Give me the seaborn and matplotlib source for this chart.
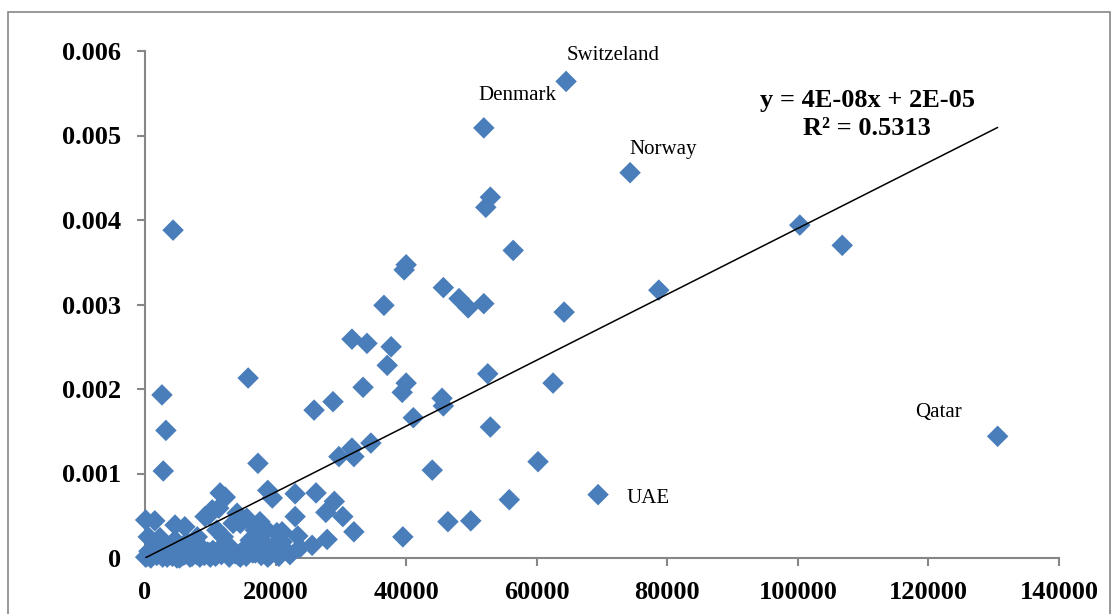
import matplotlib
matplotlib.use("Agg")
import matplotlib.pyplot as plt
import seaborn as sns
import pandas as pd
from matplotlib.patches import Rectangle

# ---- data ----
gdp = [64500, 51900, 74300, 52900, 52200, 4300, 56400, 100300, 106800, 40000,
       39700, 36600, 45700, 48100, 49500, 51900, 64200, 78700, 31700, 34000,
       37700, 37100, 15800, 2600, 3200, 2800, 40000, 39400, 33400, 28800,
       25900, 45500, 45700, 41100, 52500, 62500, 52900, 34600, 31700, 32000,
       29700, 44000, 60200, 55800, 46400, 49900, 69400, 130600, 17300, 26200,
       23000, 29000, 27700, 23000, 30300, 32000, 23400, 25600, 27900, 21000,
       21000, 39500, 18800, 19500, 11500, 10300, 9200, 12300, 14100, 14600,
       15600, 17600, 18700, 20200, 18100, 19500, 20700, 12000, 13000, 15000,
       16500, 18800, 12600, 100, 1500, 500, 2300, 6400, 8000, 11000,
       100, 1200, 3400, 4900, 6900, 8700, 10400, 13500, 6100, 10000,
       14600, 22200, 23700, 3800, 2300, 4600, 7700, 12300, 16100, 16900,
       11300, 9800, 6100, 4600,
       # overlapping diamonds hidden in the near-zero cluster
       300, 900, 1800, 2700, 3600, 4200, 5300, 5800, 6600, 7200,
       7900, 8400, 9100, 9600, 10800, 11700, 12900, 13800, 14300, 15500,
       16900, 17800, 19200, 20500, 600, 1300, 2000, 2900, 3300, 4700,
       5600, 6200, 7500, 8800, 9900, 11200, 12200, 13300, 15900, 17200]
share = [0.00564, 0.00509, 0.00456, 0.00427, 0.00415, 0.00388, 0.00364, 0.00394, 0.00370, 0.00347,
         0.00341, 0.00299, 0.00320, 0.00307, 0.00296, 0.00301, 0.00291, 0.00317, 0.00259, 0.00254,
         0.00250, 0.00228, 0.00213, 0.00193, 0.00151, 0.00103, 0.00207, 0.00196, 0.00202, 0.00185,
         0.00175, 0.00189, 0.00180, 0.00166, 0.00218, 0.00207, 0.00155, 0.00136, 0.00130, 0.00120,
         0.00120, 0.00104, 0.00114, 0.00069, 0.00043, 0.00044, 0.00075, 0.00144, 0.00112, 0.00077,
         0.00076, 0.00067, 0.00054, 0.00049, 0.00049, 0.00031, 0.00026, 0.00015, 0.00022, 0.00031,
         0.00019, 0.00025, 0.00080, 0.00071, 0.00077, 0.00057, 0.00049, 0.00072, 0.00053, 0.00041,
         0.00047, 0.00043, 0.00033, 0.00030, 0.00018, 0.00013, 0.00021, 0.00025, 0.00013, 0.00009,
         0.00006, 0.00001, 0.00006, 0.00045, 0.00044, 0.00025, 0.00024, 0.00019, 0.00025, 0.00033,
         0.00001, 0.00006, 0.00001, 0.00000, 0.00001, 0.00006, 0.00009, 0.00041, 0.00004, 0.00001,
         0.00001, 0.00004, 0.00012, 0.00012, 0.00015, 0.00021, 0.00012, 0.00015, 0.00021, 0.00033,
         0.00059, 0.00051, 0.00037, 0.00039,
         0.00002, 0.00000, 0.00003, 0.00001, 0.00004, 0.00002, 0.00000, 0.00003, 0.00006, 0.00002,
         0.00004, 0.00001, 0.00003, 0.00007, 0.00002, 0.00004, 0.00001, 0.00005, 0.00003, 0.00002,
         0.00006, 0.00003, 0.00004, 0.00002, 0.00008, 0.00010, 0.00007, 0.00009, 0.00005, 0.00008,
         0.00010, 0.00007, 0.00009, 0.00011, 0.00006, 0.00009, 0.00008, 0.00010, 0.00007, 0.00009]

x_ticks = [0, 20000, 40000, 60000, 80000, 100000, 120000, 140000]
y_ticks = [0, 0.001, 0.002, 0.003, 0.004, 0.005, 0.006]
y_tick_labels = ["0", "0.001", "0.002", "0.003", "0.004", "0.005", "0.006"]

labels = ["Switzeland", "Denmark", "Norway", "UAE", "Qatar"]
label_x = [71700, 57000, 79400, 73700, 121500]
label_y = [0.00595, 0.00547, 0.00483, 0.00071, 0.00172]
label_ha = ["center", "center", "center", "left", "center"]

equation = "y = 4E-08x + 2E-05\nR² = 0.5313"

df = pd.DataFrame({"gdp": gdp, "share": share})

sns.set_theme(style="white")
plt.rcParams["font.family"] = ["Liberation Serif", "DejaVu Serif"]

fig = plt.figure(figsize=(11.15, 6.14), dpi=100)
ax = fig.add_axes([145/1115, 1 - 558/614, (1059-145)/1115, (558-51)/614])

grey = "#868686"
blue = "#4A7EBB"

sns.regplot(data=df, x="gdp", y="share", ax=ax, ci=None, truncate=True,
            marker="D",
            scatter_kws=dict(s=120, color=blue, edgecolors="none", alpha=1, zorder=3),
            line_kws=dict(color="black", lw=1.1, zorder=4))
for coll in ax.collections:
    coll.set_clip_on(False)

ax.set_xlim(0, 140000)
ax.set_ylim(0, 0.006)
ax.set_xticks(x_ticks)
ax.set_xticklabels([str(v) for v in x_ticks])
ax.set_yticks(y_ticks)
ax.set_yticklabels(y_tick_labels)
ax.set_xlabel("")
ax.set_ylabel("")

for s in ["top", "right"]:
    ax.spines[s].set_visible(False)
for s in ["left", "bottom"]:
    ax.spines[s].set_color(grey)
    ax.spines[s].set_linewidth(1.5)
    ax.spines[s].set_zorder(1)
ax.tick_params(axis="both", direction="out", length=5.8, width=1.5, color=grey,
               labelsize=19, colors="black")
ax.tick_params(axis="x", pad=10.5, bottom=True)
ax.tick_params(axis="y", pad=11.5, left=True)
for t in ax.get_xticklabels() + ax.get_yticklabels():
    t.set_fontweight("bold")

for lab, lx, ly, ha in zip(labels, label_x, label_y, label_ha):
    ax.text(lx, ly, lab, ha=ha, va="center", fontsize=15, color="black")

ax.text(110600, 0.00525, equation, ha="center", va="center", fontsize=19,
        fontweight="bold", linespacing=1.25, color="black")

# outer chart-area border
fig.patches.append(Rectangle((8/1115, -0.02), (1110-8)/1115, 1.02 - 12/614,
                             transform=fig.transFigure, fill=False,
                             edgecolor=grey, linewidth=1.2))

fig.savefig("out.png", dpi=100, facecolor="white")
